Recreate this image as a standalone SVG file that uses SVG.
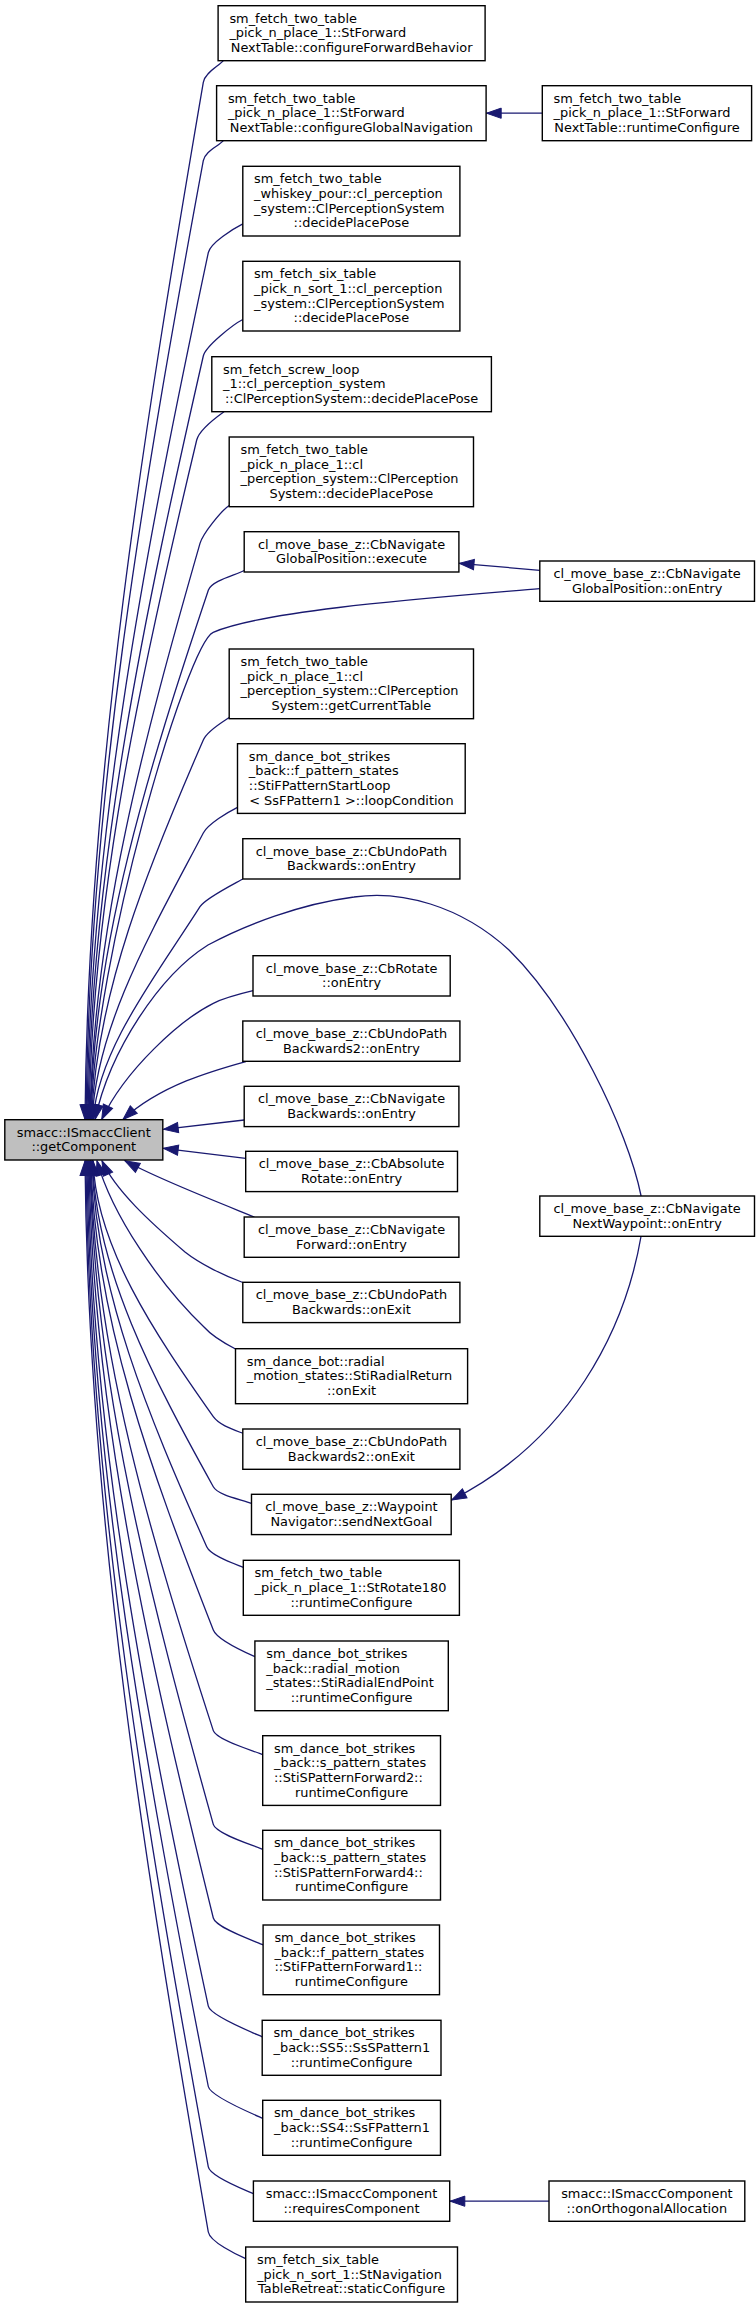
<svg xmlns="http://www.w3.org/2000/svg" width="756" height="2308" viewBox="0 0 756 2308">
<style>
.n rect{fill:#fff;stroke:#000;stroke-width:1.4}
.g rect{fill:#bfbfbf;stroke:#000;stroke-width:1.4}
text{font-family:"DejaVu Sans",sans-serif;font-size:12.9px;fill:#000}
.m{text-anchor:middle}
#edges path{fill:none;stroke:#191970;stroke-width:1.3;marker-end:url(#arr)}
</style>
<defs>
<marker id="arr" markerUnits="userSpaceOnUse" markerWidth="16" markerHeight="12" viewBox="0 0 16 12" refX="15" refY="6" orient="auto" overflow="visible">
<path d="M15,6 L0.3,0.9 L0.3,11.1 z" fill="#191970" stroke="#191970" stroke-width="1"/>
</marker>
</defs>
<rect width="756" height="2308" fill="#fff"/>
<g id="edges">
<path d="M223.3,60.7 C219,66 205,72.4 203.3,82.3 C144.3,427.9 88,773.4 85,1119.5"/>
<path d="M223.3,140.7 C219,146 205.1,150.9 203.3,160.7 C144.3,480.1 89,799.6 86,1119.5"/>
<path d="M542.3,113.2 L486.5,113.2"/>
<path d="M242.8,223.9 C233,228.9 210.4,242.8 208.3,252.6 C147.3,541.4 90,830.2 87,1119.5"/>
<path d="M242.8,319.5 C233,324.5 205.5,346.3 203.3,356 C145.3,610.3 91,864.7 88,1119.5"/>
<path d="M224,411.7 C218,416 199,430.3 196.7,440 C142.7,666.3 92,892.7 89,1119.5"/>
<path d="M229.2,505.5 C221,511 202.8,533.8 200,543.4 C145,735.3 93,927.1 90,1119.5"/>
<path d="M244.2,570.5 C236,575 211.6,580.5 208.4,590 C149.4,766.3 93.5,942.7 90.5,1119.5"/>
<path d="M539.8,588.7 C430,598 265,610 213.2,632.3 C187.3,643.5 94,957 91,1119.5"/>
<path d="M539.8,570.3 L459.3,563.3"/>
<path d="M229.2,717.5 C221,723 207.3,730.8 203.3,740 C148.3,866.3 96.5,992.7 91.5,1119.5"/>
<path d="M237.5,807.3 C228,812 208,824.1 203.3,833 C153.3,928.3 97,1023.7 92,1119.5"/>
<path d="M242.8,879 C234,884 205.4,898.3 200,906.7 C155,977.5 99,1048.2 93,1119.5"/>
<path d="M641.1,1196 C628,1130 570,1010 509,950 C460,905 400,890 354,897 C300,904 245,925 208,945 C160,975 110,1050 95,1119.5"/>
<path d="M253,990.7 C235,995 222,999 213.3,1003.3 C180,1020 125,1070 101.7,1119.5"/>
<path d="M246.5,1061.3 C215,1070 160,1085 123,1119.5"/>
<path d="M244.2,1120 L163.5,1129.3"/>
<path d="M245.7,1158.3 L163.5,1148.3"/>
<path d="M254.4,1217 C230,1207 160,1180 125,1160.8"/>
<path d="M242.8,1282.5 C225,1276 200,1264 185,1252 C150,1222 115,1190 102,1160.8"/>
<path d="M235.5,1349 C222,1342 212,1336 204,1327 C160,1285 112,1215 97,1160.8"/>
<path d="M242.8,1433.3 C232.3,1429.3 219.1,1424.9 213.3,1416.7 C153.1,1331.3 96,1245.9 93,1160.8"/>
<path d="M251.5,1503.3 C241,1499.3 218.2,1495.4 213.3,1486.7 C152.9,1378 95.5,1269.2 92.5,1160.8"/>
<path d="M641.1,1236 C625,1330 570,1440 451.6,1500"/>
<path d="M243.3,1567.3 C233.3,1563.3 210.8,1555.8 206.7,1546.7 C149.3,1418 95,1289.2 92,1160.8"/>
<path d="M254.9,1656.7 C245.9,1652.7 216.9,1639.3 213.3,1630 C152.1,1473.5 94,1317 91,1160.8"/>
<path d="M262.7,1754.7 C253.7,1750.7 216.4,1740.1 213.3,1730.6 C151.9,1540.6 93.5,1350.5 90.5,1160.8"/>
<path d="M262.7,1849.3 C253.7,1845.3 216,1834 213.3,1824.4 C151.6,1603.1 93,1381.8 90,1160.8"/>
<path d="M263.1,1944.9 C254.1,1940.9 215.7,1927.7 213.3,1918 C151.1,1665.5 92,1413 89,1160.8"/>
<path d="M262.2,2036.8 C253.2,2032.8 210.4,2016 208.3,2006.2 C148.1,1724.3 91,1442.4 88,1160.8"/>
<path d="M262.7,2118.3 C253.7,2114.3 210.2,2096.3 208.3,2086.5 C147.6,1777.8 90,1469.2 87,1160.8"/>
<path d="M253.4,2193.7 C244.4,2189.7 210.1,2176.7 208.3,2166.9 C147.1,1831.4 89,1496 86,1160.8"/>
<path d="M549,2201.2 L450.1,2201.2"/>
<path d="M245.7,2258.7 C236.7,2254.7 210,2241.9 208.3,2232 C146.6,1874.8 88,1517.7 85,1160.8"/>
</g>
<g id="node1" class="n"><rect x="218.1" y="5.7" width="267" height="55"/><text x="229.4" y="22.7">sm_fetch_two_table</text><text x="229.4" y="37.4">_pick_n_place_1::StForward</text><text class="m" x="351.6" y="52.1">NextTable::configureForwardBehavior</text></g>
<g id="node2" class="n"><rect x="216.6" y="85.7" width="269.5" height="55"/><text x="227.9" y="102.7">sm_fetch_two_table</text><text x="227.9" y="117.4">_pick_n_place_1::StForward</text><text class="m" x="351.4" y="132.1">NextTable::configureGlobalNavigation</text></g>
<g id="node3" class="n"><rect x="542.3" y="85.7" width="209.3" height="55"/><text x="553.6" y="102.7">sm_fetch_two_table</text><text x="553.6" y="117.4">_pick_n_place_1::StForward</text><text class="m" x="647" y="132.1">NextTable::runtimeConfigure</text></g>
<g id="node4" class="n"><rect x="242.8" y="166.3" width="217.1" height="69.7"/><text x="254.1" y="183.3">sm_fetch_two_table</text><text x="254.1" y="198">_whiskey_pour::cl_perception</text><text x="254.1" y="212.7">_system::ClPerceptionSystem</text><text class="m" x="351.4" y="227.4">::decidePlacePose</text></g>
<g id="node5" class="n"><rect x="242.8" y="261.3" width="217.1" height="69.7"/><text x="254.1" y="278.3">sm_fetch_six_table</text><text x="254.1" y="293">_pick_n_sort_1::cl_perception</text><text x="254.1" y="307.7">_system::ClPerceptionSystem</text><text class="m" x="351.4" y="322.4">::decidePlacePose</text></g>
<g id="node6" class="n"><rect x="211.8" y="356.7" width="279.6" height="55"/><text x="223.1" y="373.7">sm_fetch_screw_loop</text><text x="223.1" y="388.4">_1::cl_perception_system</text><text class="m" x="351.6" y="403.1">::ClPerceptionSystem::decidePlacePose</text></g>
<g id="node7" class="n"><rect x="229.2" y="437" width="244.3" height="69.7"/><text x="240.5" y="454">sm_fetch_two_table</text><text x="240.5" y="468.7">_pick_n_place_1::cl</text><text x="240.5" y="483.4">_perception_system::ClPerception</text><text class="m" x="351.4" y="498.1">System::decidePlacePose</text></g>
<g id="node8" class="n"><rect x="244.2" y="531.7" width="214.7" height="40.3"/><text class="m" x="351.5" y="548.7">cl_move_base_z::CbNavigate</text><text class="m" x="351.5" y="563.4">GlobalPosition::execute</text></g>
<g id="node9" class="n"><rect x="539.8" y="561" width="214.7" height="40.3"/><text class="m" x="647.1" y="578">cl_move_base_z::CbNavigate</text><text class="m" x="647.1" y="592.7">GlobalPosition::onEntry</text></g>
<g id="node10" class="n"><rect x="229.2" y="649" width="244.3" height="69.7"/><text x="240.5" y="666">sm_fetch_two_table</text><text x="240.5" y="680.7">_pick_n_place_1::cl</text><text x="240.5" y="695.4">_perception_system::ClPerception</text><text class="m" x="351.4" y="710.1">System::getCurrentTable</text></g>
<g id="node11" class="n"><rect x="237.5" y="743.7" width="227.7" height="69.7"/><text x="248.8" y="760.7">sm_dance_bot_strikes</text><text x="248.8" y="775.4">_back::f_pattern_states</text><text x="248.8" y="790.1">::StiFPatternStartLoop</text><text class="m" x="351.4" y="804.8">&lt; SsFPattern1 &gt;::loopCondition</text></g>
<g id="node12" class="n"><rect x="242.8" y="838.7" width="217.1" height="40.3"/><text class="m" x="351.4" y="855.7">cl_move_base_z::CbUndoPath</text><text class="m" x="351.4" y="870.4">Backwards::onEntry</text></g>
<g id="node13" class="n"><rect x="253" y="955.7" width="197.2" height="40.3"/><text class="m" x="351.6" y="972.7">cl_move_base_z::CbRotate</text><text class="m" x="351.6" y="987.4">::onEntry</text></g>
<g id="node14" class="n"><rect x="242.8" y="1021" width="217.1" height="40.3"/><text class="m" x="351.4" y="1038">cl_move_base_z::CbUndoPath</text><text class="m" x="351.4" y="1052.7">Backwards2::onEntry</text></g>
<g id="node15" class="n"><rect x="244.2" y="1086.3" width="214.7" height="40.3"/><text class="m" x="351.5" y="1103.3">cl_move_base_z::CbNavigate</text><text class="m" x="351.5" y="1118">Backwards::onEntry</text></g>
<g id="getComponent" class="g"><rect x="4.8" y="1119.7" width="158" height="40.3"/><text class="m" x="83.8" y="1136.7">smacc::ISmaccClient</text><text class="m" x="83.8" y="1151.4">::getComponent</text></g>
<g id="node16" class="n"><rect x="245.7" y="1151.3" width="211.8" height="40.3"/><text class="m" x="351.6" y="1168.3">cl_move_base_z::CbAbsolute</text><text class="m" x="351.6" y="1183">Rotate::onEntry</text></g>
<g id="node17" class="n"><rect x="244.2" y="1217" width="214.7" height="40.3"/><text class="m" x="351.5" y="1234">cl_move_base_z::CbNavigate</text><text class="m" x="351.5" y="1248.7">Forward::onEntry</text></g>
<g id="node18" class="n"><rect x="539.8" y="1196" width="214.7" height="40.3"/><text class="m" x="647.1" y="1213">cl_move_base_z::CbNavigate</text><text class="m" x="647.1" y="1227.7">NextWaypoint::onEntry</text></g>
<g id="node19" class="n"><rect x="242.8" y="1282.3" width="217.1" height="40.3"/><text class="m" x="351.4" y="1299.3">cl_move_base_z::CbUndoPath</text><text class="m" x="351.4" y="1314">Backwards::onExit</text></g>
<g id="node20" class="n"><rect x="235.5" y="1348.7" width="232.1" height="55"/><text x="246.8" y="1365.7">sm_dance_bot::radial</text><text x="246.8" y="1380.4">_motion_states::StiRadialReturn</text><text class="m" x="351.5" y="1395.1">::onExit</text></g>
<g id="node21" class="n"><rect x="242.8" y="1429" width="217.1" height="40.3"/><text class="m" x="351.4" y="1446">cl_move_base_z::CbUndoPath</text><text class="m" x="351.4" y="1460.7">Backwards2::onExit</text></g>
<g id="node22" class="n"><rect x="251.5" y="1494.3" width="199.7" height="40.3"/><text class="m" x="351.4" y="1511.3">cl_move_base_z::Waypoint</text><text class="m" x="351.4" y="1526">Navigator::sendNextGoal</text></g>
<g id="node23" class="n"><rect x="243.3" y="1560.3" width="216.1" height="55"/><text x="254.6" y="1577.3">sm_fetch_two_table</text><text x="254.6" y="1592">_pick_n_place_1::StRotate180</text><text class="m" x="351.4" y="1606.7">::runtimeConfigure</text></g>
<g id="node24" class="n"><rect x="254.9" y="1641" width="193.4" height="69.7"/><text x="266.2" y="1658">sm_dance_bot_strikes</text><text x="266.2" y="1672.7">_back::radial_motion</text><text x="266.2" y="1687.4">_states::StiRadialEndPoint</text><text class="m" x="351.6" y="1702.1">::runtimeConfigure</text></g>
<g id="node25" class="n"><rect x="262.7" y="1735.7" width="177.8" height="69.7"/><text x="274" y="1752.7">sm_dance_bot_strikes</text><text x="274" y="1767.4">_back::s_pattern_states</text><text x="274" y="1782.1">::StiSPatternForward2::</text><text class="m" x="351.6" y="1796.8">runtimeConfigure</text></g>
<g id="node26" class="n"><rect x="262.7" y="1830.3" width="177.8" height="69.7"/><text x="274" y="1847.3">sm_dance_bot_strikes</text><text x="274" y="1862">_back::s_pattern_states</text><text x="274" y="1876.7">::StiSPatternForward4::</text><text class="m" x="351.6" y="1891.4">runtimeConfigure</text></g>
<g id="node27" class="n"><rect x="263.1" y="1925" width="176.4" height="69.7"/><text x="274.4" y="1942">sm_dance_bot_strikes</text><text x="274.4" y="1956.7">_back::f_pattern_states</text><text x="274.4" y="1971.4">::StiFPatternForward1::</text><text class="m" x="351.3" y="1986.1">runtimeConfigure</text></g>
<g id="node28" class="n"><rect x="262.2" y="2020.3" width="178.8" height="55"/><text x="273.5" y="2037.3">sm_dance_bot_strikes</text><text x="273.5" y="2052">_back::SS5::SsSPattern1</text><text class="m" x="351.6" y="2066.7">::runtimeConfigure</text></g>
<g id="node29" class="n"><rect x="262.7" y="2100.3" width="177.8" height="55"/><text x="274" y="2117.3">sm_dance_bot_strikes</text><text x="274" y="2132">_back::SS4::SsFPattern1</text><text class="m" x="351.6" y="2146.7">::runtimeConfigure</text></g>
<g id="node30" class="n"><rect x="253.4" y="2181" width="196.3" height="40.3"/><text class="m" x="351.5" y="2198">smacc::ISmaccComponent</text><text class="m" x="351.5" y="2212.7">::requiresComponent</text></g>
<g id="node31" class="n"><rect x="549" y="2181" width="195.8" height="40.3"/><text class="m" x="646.9" y="2198">smacc::ISmaccComponent</text><text class="m" x="646.9" y="2212.7">::onOrthogonalAllocation</text></g>
<g id="node32" class="n"><rect x="245.7" y="2247" width="211.8" height="55"/><text x="257" y="2264">sm_fetch_six_table</text><text x="257" y="2278.7">_pick_n_sort_1::StNavigation</text><text class="m" x="351.6" y="2293.4">TableRetreat::staticConfigure</text></g>
</svg>
